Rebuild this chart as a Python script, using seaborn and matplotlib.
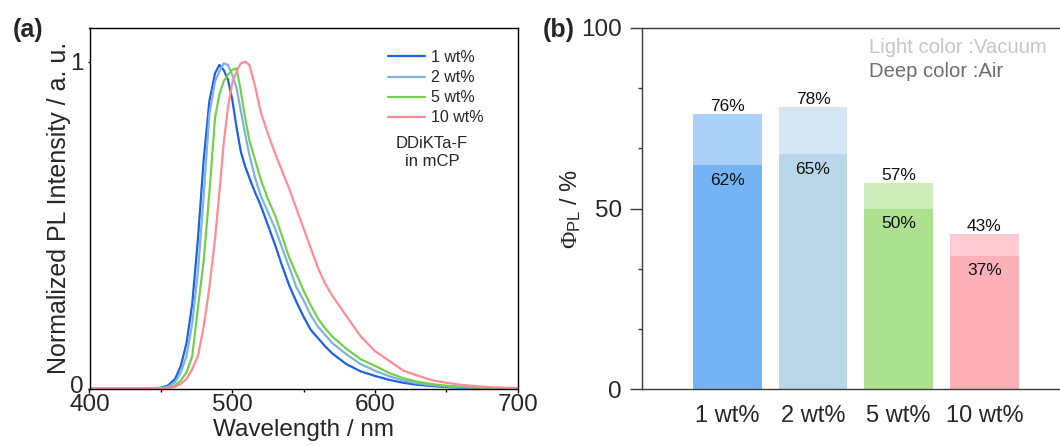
import matplotlib
matplotlib.use("Agg")
import matplotlib.pyplot as plt
import matplotlib.transforms as mtransforms
import numpy as np
import pandas as pd
import seaborn as sns

# ---------------- data ----------------
wavelength = [400, 420, 440, 450, 455, 460, 464, 468, 472, 476, 480, 484, 488, 491,
              494, 497, 500, 503, 506, 509, 512, 516, 520, 525, 530, 535, 540, 545,
              550, 555, 560, 565, 570, 580, 590, 600, 610, 620, 630, 640, 650, 660,
              670, 680, 690, 700]

pl_1wt = [0, 0, 0, 0.003, 0.01, 0.03, 0.07, 0.14, 0.26, 0.46, 0.70, 0.88, 0.965, 0.99,
          0.975, 0.945, 0.885, 0.80, 0.725, 0.68, 0.645, 0.60, 0.56, 0.50, 0.44, 0.375,
          0.315, 0.265, 0.22, 0.18, 0.155, 0.13, 0.108, 0.075, 0.053, 0.039, 0.027,
          0.018, 0.012, 0.008, 0.005, 0.003, 0.002, 0.001, 0, 0]

pl_2wt = [0, 0, 0, 0.002, 0.006, 0.02, 0.05, 0.10, 0.20, 0.36, 0.59, 0.84, 0.94, 0.97,
          0.995, 0.99, 0.96, 0.92, 0.85, 0.78, 0.715, 0.645, 0.59, 0.54, 0.49, 0.43,
          0.37, 0.31, 0.27, 0.225, 0.19, 0.165, 0.14, 0.105, 0.075, 0.055, 0.038,
          0.025, 0.016, 0.011, 0.007, 0.004, 0.003, 0.002, 0.001, 0]

pl_5wt = [0, 0, 0, 0.001, 0.003, 0.01, 0.025, 0.05, 0.10, 0.25, 0.39, 0.60, 0.83, 0.90,
          0.94, 0.96, 0.975, 0.98, 0.91, 0.83, 0.76, 0.70, 0.64, 0.58, 0.53, 0.465,
          0.40, 0.35, 0.30, 0.255, 0.215, 0.185, 0.16, 0.122, 0.09, 0.07, 0.048,
          0.032, 0.021, 0.014, 0.009, 0.006, 0.004, 0.002, 0.001, 0]

pl_10wt = [0, 0, 0, 0.001, 0.002, 0.006, 0.015, 0.03, 0.06, 0.10, 0.19, 0.31, 0.46, 0.60,
           0.75, 0.86, 0.935, 0.97, 0.995, 1.0, 0.99, 0.925, 0.845, 0.78, 0.72, 0.665,
           0.61, 0.55, 0.49, 0.43, 0.37, 0.322, 0.285, 0.222, 0.16, 0.115, 0.085,
           0.055, 0.04, 0.026, 0.018, 0.012, 0.008, 0.005, 0.003, 0.002]

doping = ["1 wt%", "2 wt%", "5 wt%", "10 wt%"]
plqy_vacuum = [76, 78, 57, 43]
plqy_air = [62, 65, 50, 37]

# ---------------- styling ----------------
line_colors = ["#1a62e8", "#7fb3de", "#74cf4e", "#ff8c96"]
light_colors = ["#a9d0f7", "#d6e6f2", "#cdecbb", "#ffcad2"]
deep_colors = ["#74b4f4", "#bad7e9", "#aee18f", "#feb0b8"]

sns.set_style("ticks")
plt.rcParams["font.family"] = ["Liberation Sans", "DejaVu Sans"]
plt.rcParams["mathtext.fontset"] = "custom"
plt.rcParams["mathtext.rm"] = "Liberation Serif"
plt.rcParams["mathtext.it"] = "Liberation Serif:italic"
plt.rcParams["mathtext.sf"] = "Liberation Sans"

W, H = 1060, 446
fig = plt.figure(figsize=(W / 100, H / 100), dpi=100)
axL = fig.add_axes([89.5 / W, (H - 388.7) / H, 428.2 / W, 361 / H])
axR = fig.add_axes([641.7 / W, (H - 389.3) / H, 428.3 / W, 361.6 / H])

# ---------------- (a) PL spectra ----------------
spectra = pd.DataFrame({
    "Wavelength": wavelength * 4,
    "Intensity": pl_1wt + pl_2wt + pl_5wt + pl_10wt,
    "Doping": sum([[d] * len(wavelength) for d in doping], []),
})
sns.lineplot(data=spectra, x="Wavelength", y="Intensity", hue="Doping",
             hue_order=doping, palette=dict(zip(doping, line_colors)),
             linewidth=1.6, ax=axL)

axL.set_xlim(400, 700)
axL.set_ylim(0, 1.104)
axL.set_xticks([400, 500, 600, 700])
axL.set_xticks([450, 550, 650], minor=True)
axL.set_yticks([0, 1])
axL.set_yticklabels(["0", "1"])
axL.tick_params(axis="x", which="major", direction="out", length=3, width=1,
                labelsize=17.5, pad=1, color="black")
axL.tick_params(axis="x", which="minor", direction="out", length=2.5, width=1,
                color="black")
axL.tick_params(axis="y", which="major", direction="out", length=1.5, width=1,
                labelsize=17.5, pad=3, color="black")
# lift the "0" label a little off the x axis
lift = mtransforms.ScaledTranslation(0, 4 / 100, fig.dpi_scale_trans)
zero_label = axL.get_yticklabels()[0]
zero_label.set_transform(zero_label.get_transform() + lift)
for s in axL.spines.values():
    s.set_color("black")
    s.set_linewidth(1)
axL.set_xlabel("Wavelength / nm", fontsize=17.5, labelpad=2)
axL.set_ylabel("Normalized PL Intensity / a. u.", fontsize=18, labelpad=-1)

handles, labels = axL.get_legend_handles_labels()
axL.legend(handles, labels, loc="upper left",
           bbox_to_anchor=(388 / W, 1 - 50 / H), bbox_transform=fig.transFigure,
           frameon=False, fontsize=11.5, handlelength=2.3, handletextpad=0.4,
           labelspacing=0.32, borderpad=0, borderaxespad=0)
fig.text(432 / W, 1 - 153 / H, "DDiKTa-F\nin mCP", fontsize=12, ha="center",
         va="center", linespacing=1.25)

# ---------------- (b) PLQY bars ----------------
sns.barplot(x=doping, y=plqy_vacuum, hue=doping, palette=light_colors,
            legend=False, saturation=1, width=0.8, linewidth=0, ax=axR)
sns.barplot(x=doping, y=plqy_air, hue=doping, palette=deep_colors,
            legend=False, saturation=1, width=0.8, linewidth=0, ax=axR)

for i, (v, a) in enumerate(zip(plqy_vacuum, plqy_air)):
    axR.annotate(f"{v}%", (i, v), xytext=(0, 2.2), textcoords="offset points",
                 ha="center", va="baseline", fontsize=12.5, color="#111111")
    axR.annotate(f"{a}%", (i, a), xytext=(0, -14), textcoords="offset points",
                 ha="center", va="baseline", fontsize=12.5, color="#111111")

axR.set_xlim(-1, 4)
axR.set_ylim(0, 100)
axR.set_yticks([0, 50, 100])
axR.set_yticks([100 / 6, 200 / 6, 400 / 6, 500 / 6], minor=True)
axR.tick_params(axis="y", which="major", direction="out", length=8.4, width=1,
                labelsize=17.5, pad=6, color="#3a3a3a")
axR.tick_params(axis="y", which="minor", direction="out", length=3, width=1,
                color="#3a3a3a")
axR.tick_params(axis="x", length=0, labelsize=17, pad=11)
axR.spines["right"].set_visible(False)
for k in ("left", "top", "bottom"):
    axR.spines[k].set_color("#3a3a3a")
    axR.spines[k].set_linewidth(1)
axR.set_xlabel("")
axR.set_ylabel(r"$\Phi_{\mathsf{PL}}$ / %", fontsize=17, labelpad=-1.5)

fig.text(869 / W, 1 - 53.3 / H, "Light color :Vacuum", fontsize=14.6,
         color="#c6c6c6", ha="left", va="baseline")
fig.text(869 / W, 1 - 76.7 / H, "Deep color :Air", fontsize=14.6,
         color="#6e6e6e", ha="left", va="baseline")

# panel labels
fig.text(28 / W, 1 - 30 / H, "(a)", fontsize=18, fontweight="bold",
         ha="center", va="center")
fig.text(559 / W, 1 - 30 / H, "(b)", fontsize=18, fontweight="bold",
         ha="center", va="center")

fig.savefig("out.png", dpi=100)
